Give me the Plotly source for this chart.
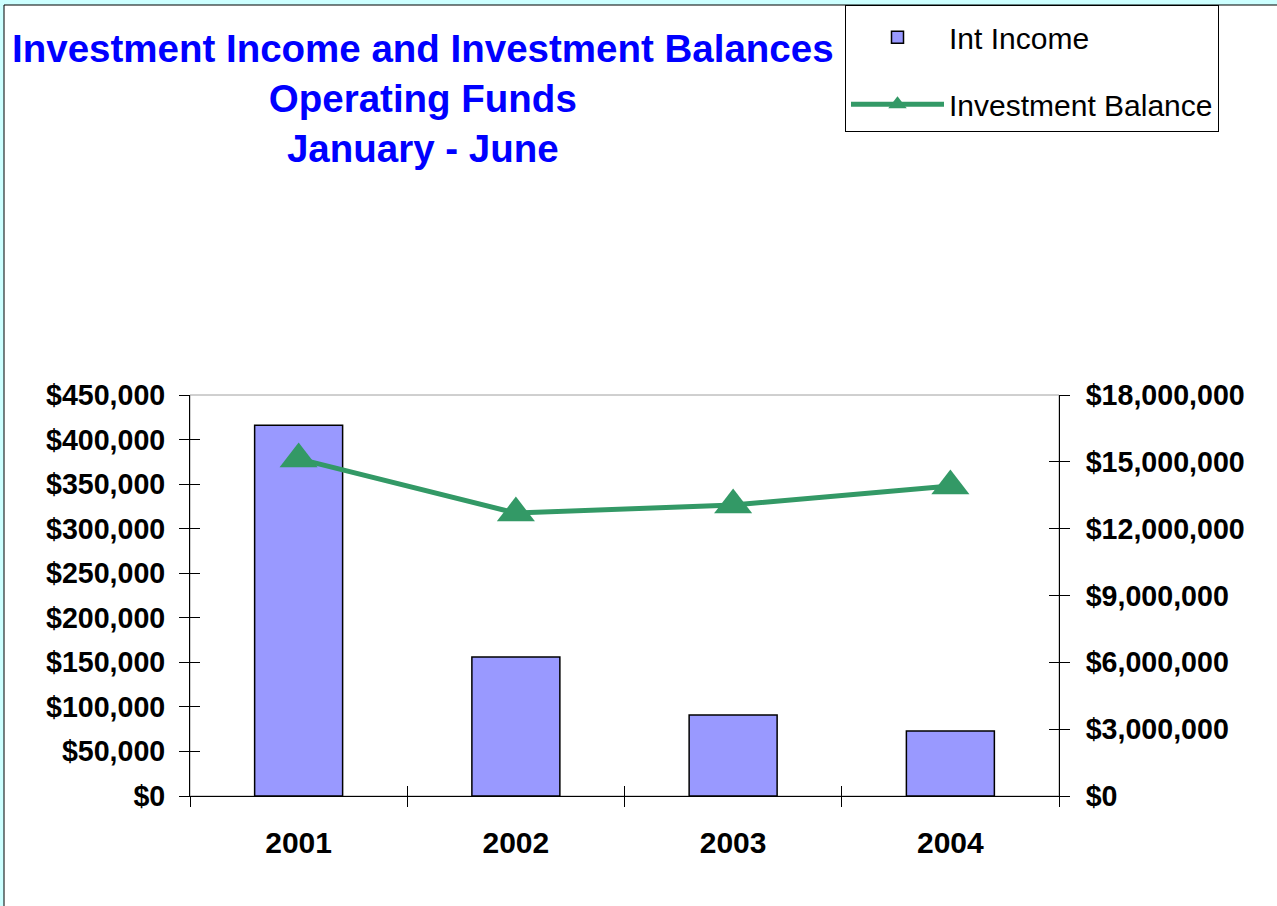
import plotly.graph_objects as go

years = ["2001", "2002", "2003", "2004"]
int_income = [416000, 156000, 91000, 73000]
inv_balance = [15130000, 12700000, 13060000, 13920000]

W, H = 1277, 906
L, R, T, B = 190, 218, 395, 110
PW = W - L - R
PH = H - T - B


def px(xp):
    return (xp - L) / PW


def py(yp):
    return (H - B - yp) / PH


FONT = "Liberation Sans, Arial, sans-serif"

fig = go.Figure()
fig.add_trace(go.Bar(
    x=years, y=int_income, name="Int Income", width=0.405,
    marker=dict(color="#9999FF", line=dict(color="black", width=1.5)),
    legendgroup="a", xaxis="x", yaxis="y",
))
fig.add_trace(go.Scatter(
    x=years, y=inv_balance, name="Investment Balance", mode="lines+markers",
    line=dict(color="#339966", width=5),
    marker=dict(symbol="triangle-up", size=33, color="#339966"),
    legendgroup="b", xaxis="x", yaxis="y2",
))
# helper traces for the inner halves of the crossing tick marks
fig.add_trace(go.Scatter(x=years, y=[None] * 4, xaxis="x2", yaxis="y3",
                         showlegend=False, hoverinfo="skip"))
fig.add_trace(go.Scatter(x=years, y=[None] * 4, xaxis="x2", yaxis="y4",
                         showlegend=False, hoverinfo="skip"))

tickfont = dict(family=FONT, size=28.6, color="black", weight="bold")

fig.update_layout(
    template="none",
    width=W, height=H, autosize=False,
    margin=dict(l=L, r=R, t=T, b=B, autoexpand=False),
    paper_bgcolor="#CCFFFF", plot_bgcolor="white",
    bargap=0.5,
    showlegend=True,
    legend=dict(
        x=px(845), y=py(5), xanchor="left", yanchor="top",
        bgcolor="white", bordercolor="black", borderwidth=1,
        font=dict(family=FONT, size=30, color="black"),
        itemwidth=93, tracegroupgap=25,
        title=dict(text="&nbsp;", font=dict(size=4)),
    ),
    xaxis=dict(
        type="category", tickson="boundaries", ticks="outside", ticklen=10,
        tickcolor="black", tickwidth=1, showline=True, linecolor="black",
        linewidth=1, showgrid=False, automargin=False,
        tickfont=dict(family=FONT, size=30, color="black", weight="bold"),
        ticklabelstandoff=20, anchor="y",
    ),
    xaxis2=dict(
        type="category", overlaying="x", matches="x", tickson="boundaries",
        ticks="inside", ticklen=10, tickcolor="black", showticklabels=False,
        showline=False, showgrid=False, anchor="y", side="bottom", automargin=False,
    ),
    yaxis=dict(
        range=[0, 450000], dtick=50000, tickprefix="$", tickformat=",",
        ticks="outside", ticklen=10, tickcolor="black", showline=True,
        linecolor="black", linewidth=1, showgrid=False, zeroline=False,
        tickfont=tickfont, ticklabelstandoff=8, automargin=False,
    ),
    yaxis2=dict(
        range=[0, 18000000], dtick=3000000, tickprefix="$", tickformat=",",
        overlaying="y", side="right", ticks="outside", ticklen=10,
        tickcolor="black", showline=True, linecolor="black", linewidth=1,
        showgrid=False, zeroline=False, tickfont=tickfont, ticklabelstandoff=10,
        anchor="x", automargin=False,
    ),
    yaxis3=dict(
        range=[0, 450000], dtick=50000, overlaying="y", side="left",
        ticks="inside", ticklen=10, tickcolor="black", showticklabels=False,
        showline=False, showgrid=False, zeroline=False, anchor="x2", automargin=False,
    ),
    yaxis4=dict(
        range=[0, 18000000], dtick=3000000, overlaying="y", side="right",
        ticks="inside", ticklen=10, tickcolor="black", showticklabels=False,
        showline=False, showgrid=False, zeroline=False, anchor="x2", automargin=False,
    ),
    shapes=[
        dict(type="rect", xref="paper", yref="paper", layer="below",
             x0=px(4), x1=px(W + 20), y0=py(5), y1=py(H + 20),
             fillcolor="white", line=dict(color="black", width=1)),
        dict(type="rect", xref="paper", yref="paper", layer="below",
             x0=0, x1=1, y0=0, y1=1, fillcolor="white",
             line=dict(color="#A0A0A0", width=1)),
    ],
    annotations=[
        dict(text="Investment Income and Investment Balances<br>Operating Funds<br>January - June",
             xref="paper", yref="paper", x=px(423), y=py(25), xanchor="center",
             yanchor="top", showarrow=False, align="center",
             font=dict(family=FONT, size=38.5, color="#0000FF", weight="bold")),
    ],
)

fig.write_html("out.html", config={"displayModeBar": False},
               post_script="document.body.style.margin='0';")
